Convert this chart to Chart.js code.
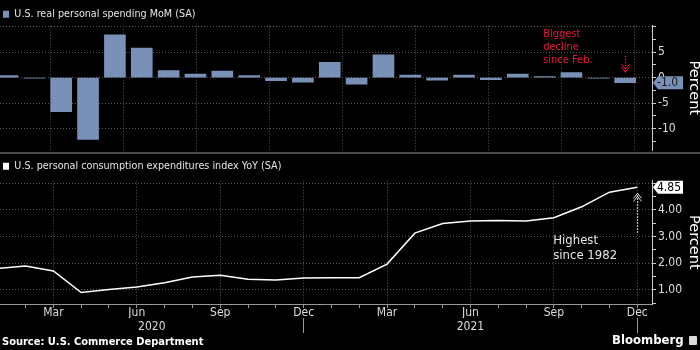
<!DOCTYPE html>
<html>
<head>
<meta charset="utf-8">
<script src="https://cdn.jsdelivr.net/npm/chart.js@4.4.1/dist/chart.umd.min.js"></script>
<style>
html, body { margin: 0; padding: 0; background: #000; }
#wrap { position: relative; width: 700px; height: 350px; background: #000; overflow: hidden; }
#top { position: absolute; left: 0; top: 0; }
#sep { position: absolute; left: 0; top: 152px; width: 700px; height: 2px; background: #4a4a4a; }
#bottom { position: absolute; left: 0; top: 154px; }
#source { position: absolute; left: 2px; top: 335px; color: #fff;
  font: bold 11px "DejaVu Sans Condensed", "DejaVu Sans", sans-serif; }
#brand { position: absolute; left: 612px; top: 332px; color: #fff;
  font: bold 13px "DejaVu Sans Condensed", "DejaVu Sans", sans-serif; }
#brand i { display: inline-block; width: 8px; height: 9px; background: #ddd; border-radius: 1px;
  margin-left: 5px; vertical-align: -1px; }
</style>
</head>
<body>
<div id="wrap">
  <canvas id="top" width="700" height="152"></canvas>
  <div id="sep"></div>
  <canvas id="bottom" width="700" height="196"></canvas>
  <div id="source">Source: U.S. Commerce Department</div>
  <div id="brand">Bloomberg<i></i></div>
</div>
<script>
const FONT = '"DejaVu Sans Condensed", "DejaVu Sans", sans-serif';
Chart.defaults.font.family = FONT;
Chart.defaults.color = '#ddd';

// Jan 2020 .. Dec 2021
const months = ['Jan', 'Feb', 'Mar', 'Apr', 'May', 'Jun', 'Jul', 'Aug', 'Sep', 'Oct', 'Nov', 'Dec',
                'Jan', 'Feb', 'Mar', 'Apr', 'May', 'Jun', 'Jul', 'Aug', 'Sep', 'Oct', 'Nov', 'Dec'];
const years = ['2020', '2021'];
const labelledMonths = ['Mar', 'Jun', 'Sep', 'Dec'];

// real personal spending, MoM %
const spending = [0.4, -0.1, -6.7, -12.1, 8.4, 5.8, 1.4, 0.7, 1.3, 0.4, -0.6, -0.9,
                  3.0, -1.3, 4.5, 0.5, -0.5, 0.5, -0.4, 0.7, 0.2, 1.0, -0.1, -1.0];
// PCE index, YoY %
const pce = [1.8, 1.9, 1.71, 0.9, 1.01, 1.11, 1.27, 1.48, 1.55, 1.4, 1.37, 1.45,
             1.46, 1.46, 1.97, 3.13, 3.49, 3.59, 3.61, 3.59, 3.71, 4.12, 4.67, 4.85];

const spendingTickLabels = ['5', '0', '-5', '-10'];
const pceTickLabels = ['1.00', '2.00', '3.00', '4.00'];

const GRID = '#585858';
const BAR = '#7991b6';
const RED = '#e8173c';
const monthMin = 0.08, monthMax = 23.53;

const quarterIdx = months.map((m, i) => i).filter(i => labelledMonths.includes(months[i]));
const yearEnds = months.map((m, i) => i).filter(i => months[i] === 'Dec');

// shrink/grow the legend box so the plot starts where it should
function legendShift(dy) {
  return {
    id: 'legendShift',
    beforeLayout(chart) {
      const legend = chart.legend;
      if (legend && !legend._shifted) {
        const fit = legend.fit;
        legend.fit = function () { fit.call(this); this.height += dy; };
        legend._shifted = true;
      }
    }
  };
}

function valueBox(fmt, fill, textColor) {
  return {
    id: 'valueBox',
    afterDraw(chart) {
      const data = chart.data.datasets[0].data;
      const last = data[data.length - 1].y;
      const y = chart.scales.y.getPixelForValue(last);
      const x0 = chart.chartArea.right;
      const ctx = chart.ctx;
      ctx.save();
      ctx.fillStyle = fill;
      ctx.beginPath();
      ctx.moveTo(x0 + 1, y);
      ctx.lineTo(x0 + 6, y - 6.5);
      ctx.lineTo(x0 + 31, y - 6.5);
      ctx.lineTo(x0 + 31, y + 6.5);
      ctx.lineTo(x0 + 6, y + 6.5);
      ctx.closePath();
      ctx.fill();
      ctx.fillStyle = textColor;
      ctx.font = '12px ' + FONT;
      ctx.textBaseline = 'middle';
      ctx.fillText(fmt(last), x0 + 5, y + 0.5);
      ctx.restore();
    }
  };
}

function dottedArrow(ctx, x, yFrom, yTo, color) {
  const dir = yTo > yFrom ? 1 : -1;
  ctx.save();
  ctx.strokeStyle = color;
  ctx.lineWidth = 1.3;
  ctx.setLineDash([1.5, 1.5]);
  ctx.beginPath();
  ctx.moveTo(x + 0.5, yFrom);
  ctx.lineTo(x + 0.5, yTo);
  ctx.stroke();
  ctx.setLineDash([]);
  ctx.lineWidth = 1;
  [0, 3].forEach(off => {
    ctx.beginPath();
    ctx.moveTo(x - 3.5, yTo - dir * (5 + off));
    ctx.lineTo(x + 0.5, yTo - dir * off);
    ctx.lineTo(x + 4.5, yTo - dir * (5 + off));
    ctx.stroke();
  });
  ctx.restore();
}

const topNote = {
  id: 'topNote',
  afterDraw(chart) {
    const meta = chart.getDatasetMeta(0);
    const bar = meta.data[meta.data.length - 1];
    const top = chart.chartArea.top;
    const ctx = chart.ctx;
    ctx.save();
    ctx.fillStyle = RED;
    ctx.font = '11px ' + FONT;
    ctx.textBaseline = 'middle';
    ['Biggest', 'decline', 'since Feb.'].forEach((t, i) => ctx.fillText(t, bar.x - 82, top + 8 + i * 13));
    ctx.restore();
    dottedArrow(ctx, Math.round(bar.x), top + 30, bar.base - 6, RED);
  }
};

const bottomNote = {
  id: 'bottomNote',
  afterDraw(chart) {
    const meta = chart.getDatasetMeta(0);
    const pt = meta.data[meta.data.length - 1];
    const top = chart.chartArea.top;
    const ctx = chart.ctx;
    ctx.save();
    ctx.fillStyle = '#e6e6e6';
    ctx.font = '13px ' + FONT;
    ctx.textBaseline = 'middle';
    ['Highest', 'since 1982'].forEach((t, i) => ctx.fillText(t, pt.x - 84, top + 60 + i * 15));
    ctx.restore();
    dottedArrow(ctx, Math.round(pt.x), top + 52, pt.y + 6, '#e6e6e6');
  }
};

const legendOpts = (color) => ({
  display: true,
  position: 'top',
  align: 'start',
  labels: {
    boxWidth: 6, boxHeight: 7, padding: 3, color: '#e6e6e6',
    font: { size: 10.7 },
    generateLabels: chart => chart.data.datasets.map(ds => ({
      text: ds.label, fillStyle: color, strokeStyle: color, lineWidth: 0, fontColor: '#e6e6e6'
    }))
  }
});

new Chart('top', {
  type: 'bar',
  data: {
    datasets: [{
      label: 'U.S. real personal spending MoM (SA)',
      data: spending.map((v, i) => ({ x: i, y: v })),
      backgroundColor: BAR,
      barThickness: 21,
      xAxisID: 'x',
      yAxisID: 'y'
    }]
  },
  options: {
    responsive: false,
    animation: false,
    events: [],
    layout: { padding: { top: 6, left: 0, right: 0, bottom: 0 } },
    plugins: { legend: legendOpts(BAR), tooltip: { enabled: false } },
    scales: {
      x: { type: 'linear', display: false, offset: false, min: -0.279, max: 24.0 },
      xg: {
        type: 'linear', position: 'bottom', min: monthMin, max: monthMax,
        afterBuildTicks: s => { s.ticks = quarterIdx.map(v => ({ value: v })); },
        afterFit: s => { s.height = 0; },
        ticks: { display: false },
        grid: { color: GRID, drawTicks: false },
        border: { display: false, dash: [1, 2] }
      },
      y: {
        position: 'right', min: -14.2, max: 10.2,
        afterBuildTicks: s => {
          s.ticks = [];
          for (let v = -12.5; v <= 10; v += 2.5) s.ticks.push({ value: v });
        },
        afterFit: s => { s.width = 48; },
        ticks: {
          autoSkip: false, padding: 2, color: '#ddd', font: { size: 12, lineHeight: 0 },
          callback: v => spendingTickLabels.includes(String(v)) ? String(v) : ''
        },
        grid: {
          color: c => (c.tick && c.tick.value % 5 !== 0) ? 'transparent' : GRID,
          tickColor: '#ccc', tickLength: 4
        },
        border: { color: '#ccc', dash: [1, 2] },
        title: { display: true, text: 'Percent', color: '#fff', font: { size: 14.5, family: '"DejaVu Sans", sans-serif' }, padding: { top: -2 } }
      }
    }
  },
  plugins: [legendShift(-4), valueBox(v => v.toFixed(1), BAR, '#1a1a1a'), topNote]
});

new Chart('bottom', {
  type: 'line',
  data: {
    datasets: [{
      label: 'U.S. personal consumption expenditures index YoY (SA)',
      data: pce.map((v, i) => ({ x: i, y: v })),
      borderColor: '#fff',
      borderWidth: 1.5,
      pointRadius: 0,
      tension: 0
    }]
  },
  options: {
    responsive: false,
    animation: false,
    events: [],
    layout: { padding: { top: 4, left: 0, right: 0, bottom: 17 } },
    plugins: { legend: legendOpts('#fff'), tooltip: { enabled: false } },
    scales: {
      x: {
        type: 'linear', position: 'bottom', min: monthMin, max: monthMax,
        afterBuildTicks: s => {
          s.ticks = months.map((m, i) => i).filter(i => i >= monthMin).map(v => ({ value: v }));
        },
        afterFit: s => { s.height = 14; },
        ticks: {
          autoSkip: false, maxRotation: 0, padding: -2, color: '#ddd', font: { size: 12 },
          callback: v => labelledMonths.includes(months[v]) ? months[v] : ''
        },
        grid: {
          color: c => (c.tick && !labelledMonths.includes(months[c.tick.value])) ? 'transparent' : GRID,
          tickColor: '#999', tickLength: 4
        },
        border: { color: '#999', dash: [1, 2] }
      },
      xy: {
        type: 'linear', position: 'bottom', min: monthMin, max: monthMax,
        afterBuildTicks: s => {
          const t = [];
          let start = monthMin;
          yearEnds.forEach((end, k) => {
            t.push({ value: (start + end) / 2, label: years[k] });
            t.push({ value: end, label: '' });
            start = end;
          });
          s.ticks = t;
          s._yearTicks = t;
        },
        afterFit: s => { s.height = 15; },
        ticks: {
          autoSkip: false, maxRotation: 0, padding: -13, color: '#ddd', font: { size: 12 },
          callback: function (v, i) { return this._yearTicks[i].label; }
        },
        grid: {
          drawOnChartArea: false, tickLength: 15,
          tickColor: c => (c.tick && yearEnds.includes(c.tick.value)) ? '#999' : 'transparent'
        },
        border: { display: false }
      },
      y: {
        position: 'right', min: 0.47, max: 5.1,
        afterBuildTicks: s => {
          s.ticks = [];
          for (let v = 0.5; v <= 5; v += 0.5) s.ticks.push({ value: v });
        },
        afterFit: s => { s.width = 48; },
        ticks: {
          autoSkip: false, padding: 2, color: '#ddd', font: { size: 12 },
          callback: v => pceTickLabels.includes(v.toFixed(2)) ? v.toFixed(2) : ''
        },
        grid: {
          color: c => (c.tick && c.tick.value % 1 !== 0) ? 'transparent' : GRID,
          tickColor: '#ccc', tickLength: 4
        },
        border: { color: '#ccc', dash: [1, 2] },
        title: { display: true, text: 'Percent', color: '#fff', font: { size: 14.5, family: '"DejaVu Sans", sans-serif' }, padding: { top: -2 } }
      }
    }
  },
  plugins: [legendShift(-1), valueBox(v => v.toFixed(2), '#fff', '#000'), bottomNote]
});
</script>
</body>
</html>
